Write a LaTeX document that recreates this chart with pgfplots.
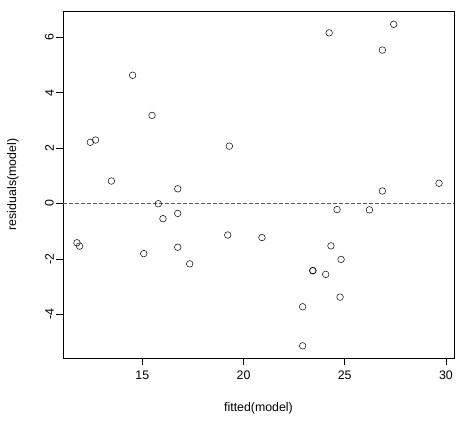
\documentclass[border=0pt]{standalone}
\usepackage{fontspec}
\setmainfont{Liberation Sans}
\usepackage{pgfplots}
\pgfplotsset{compat=1.18}
\begin{document}
\begin{tikzpicture}[x=1bp,y=1bp]
\useasboundingbox (0,0) rectangle (471,429);
\begin{axis}[
  at={(63bp,71bp)}, anchor=south west,
  scale only axis, width=391bp, height=347bp,
  xmin=11.08, xmax=30.40, ymin=-5.58, ymax=6.95,
  xtick={15,20,25,30}, ytick={-4,-2,0,2,4,6},
  tick align=outside, tickwidth=7bp,
  xtick pos=bottom, ytick pos=left,
  axis line style={black, line width=0.8pt},
  tick style={black, line width=0.6pt},
  font=\fontsize{12.4}{14}\selectfont,
  /pgf/number format/assume math mode=true,
  yticklabel style={rotate=90, anchor=south, inner sep=0pt, yshift=2bp},
  xticklabel style={anchor=north, inner sep=0pt, yshift=-6bp},
  xlabel={fitted(model)}, ylabel={residuals(model)},
  xlabel style={at={(axis description cs:0.5,-0.144)}, anchor=center},
  ylabel style={at={(axis description cs:-0.128,0.5)}, anchor=center},
  clip=false,
]
\addplot[only marks, mark=o, mark size=3.3bp, black, line width=0.5pt] coordinates {
(11.77,-1.42) (11.90,-1.54) (12.43,2.21) (12.69,2.29) (13.47,0.81)
(14.52,4.63) (15.07,-1.81) (15.48,3.18) (15.79,-0.01) (16.02,-0.55)
(16.75,0.53) (16.75,-0.36) (16.75,-1.58) (17.34,-2.18) (19.22,-1.14)
(19.30,2.07) (20.91,-1.23) (22.92,-3.73) (22.92,-5.14) (23.42,-2.43)
(23.43,-2.42) (24.06,-2.56) (24.23,6.16) (24.32,-1.53) (24.62,-0.22)
(24.77,-3.38) (24.82,-2.02) (26.22,-0.23) (26.86,5.54) (26.86,0.45)
(27.42,6.47) (29.66,0.73)
};
\addplot[gray!70!black, dashed, dash pattern=on 3.5bp off 2.5bp, line width=0.6pt] coordinates {(11.08,0) (30.40,0)};
\end{axis}
\end{tikzpicture}
\end{document}
